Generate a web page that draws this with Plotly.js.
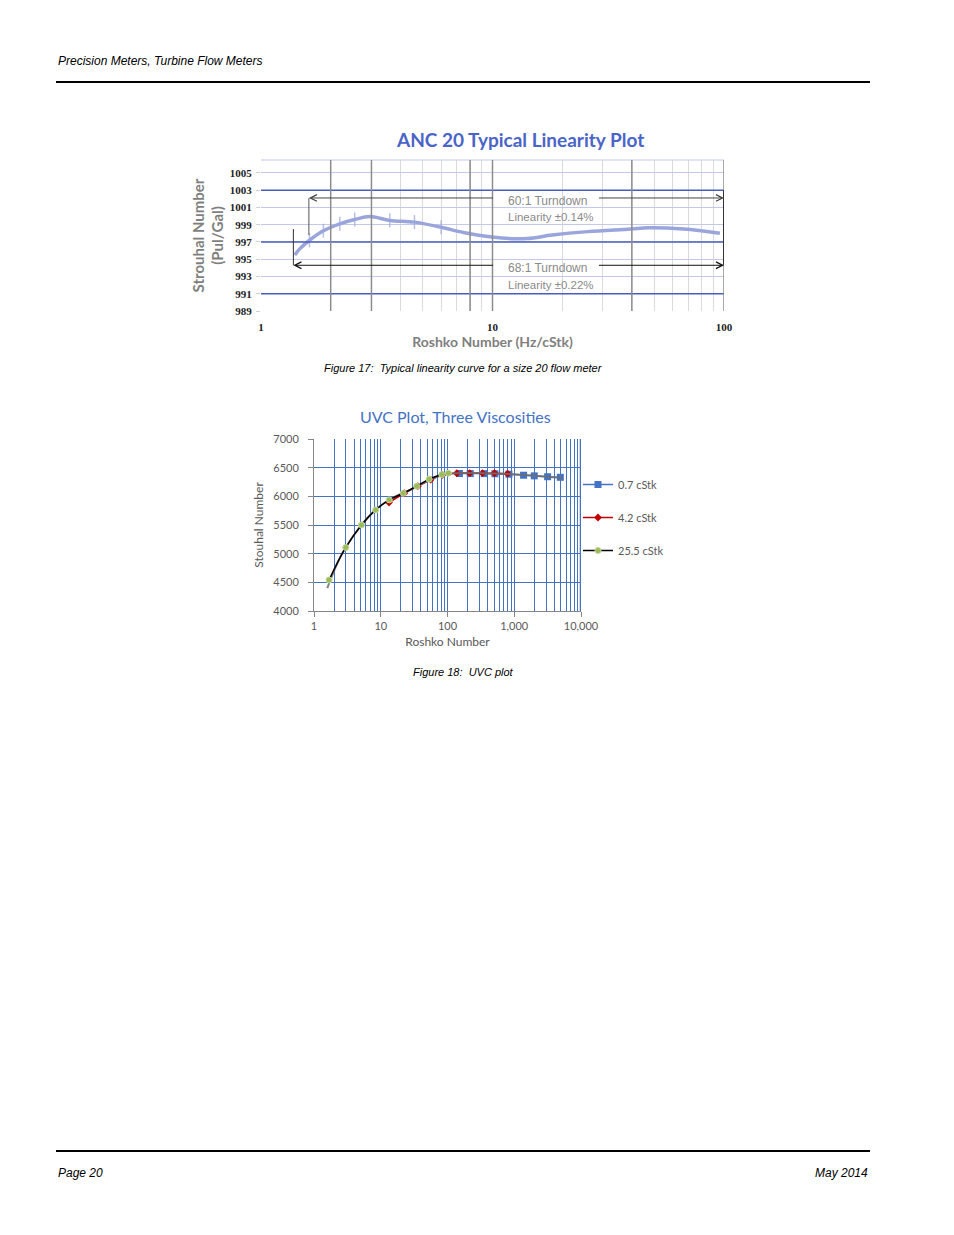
<!DOCTYPE html>
<html>
<head>
<meta charset="utf-8">
<script src="https://cdn.plot.ly/plotly-3.0.1.min.js"></script>
<style>
  html, body { margin: 0; padding: 0; background: #fff; }
  #page { width: 954px; height: 1235px; }
</style>
</head>
<body>
<div id="page"></div>
<script>
// ---- Figure 17: ANC 20 typical linearity ----
const ancRoshko   = [1.40, 1.47, 1.62, 1.86, 2.19, 2.54, 2.95, 3.6, 4.6, 6.0, 7.8, 11.0, 14.1, 18.1, 25.8, 39.5, 47, 67, 96];
const ancStrouhal = [995.5, 996.2, 997.2, 998.3, 999.1, 999.6, 999.95, 999.5, 999.3, 998.7, 998.0, 997.45, 997.4, 997.8, 998.2, 998.5, 998.65, 998.5, 998.0];
const ancTicked   = [1.62, 1.86, 2.19, 2.54, 3.6, 4.6, 6.0];   // points drawn with a small tick mark
const ancYTicks   = [989, 991, 993, 995, 997, 999, 1001, 1003, 1005];
const ancYStrong  = [991, 997, 1003];                             // dark blue grid rows
const ancXStrong  = [2, 3, 8, 10, 40, 100];                       // dark grey grid columns
const ancXTicks   = [1, 10, 100];

// turndown brackets
const turndown60 = { from: 1.61, y: 1002.1, label: "60:1 Turndown", lin: "Linearity ±0.14%" };
const turndown68 = { from: 1.38, y: 994.3,  label: "68:1 Turndown", lin: "Linearity ±0.22%" };

// ---- Figure 18: UVC plot, three viscosities ----
const visc07Roshko   = [151, 219, 355, 513, 832, 1380, 1995, 3162, 4900];
const visc07Strouhal = [6398, 6397, 6396, 6394, 6386, 6368, 6357, 6342, 6332];
const visc42Roshko   = [13.3, 22.5, 36, 56, 84, 138, 215, 335, 505, 795];
const visc42Strouhal = [5892, 6054, 6177, 6290, 6374, 6403, 6404, 6404, 6403, 6395];
const visc255Roshko   = [1.68, 2.99, 5.15, 8.4, 13.4, 21.8, 34.5, 53, 82, 103];
const visc255Strouhal = [4541, 5108, 5501, 5763, 5938, 6054, 6176, 6299, 6380, 6404];
const trendRoshko   = [1.58, 2.5, 4, 6.5, 10, 16, 25, 40, 63, 100, 160, 300, 600, 1000, 2000, 5300];
const trendStrouhal = [4400, 4950, 5330, 5640, 5840, 5990, 6090, 6210, 6320, 6395, 6405, 6405, 6400, 6385, 6358, 6318];
const uvcXTicks = [1, 10, 100, 1000, 10000];
const uvcXText  = ["1", "10", "100", "1,000", "10,000"];

// page is 954 x 1235, everything placed in paper units
const W = 954, H = 1235;
const px = v => v / W;
const py = v => 1 - v / H;

const ancBlue = "#9aa5dc";
const uvcBlue = "#4472c4";
const grey = "#595959";

// all 1..9 steps per decade, used for the grids
const logSteps = (lo, hi) => {
    const out = [];
    for (let d = lo; d < hi; d *= 10)
        for (let k = 1; k < 10; k++) out.push(k * d);
    out.push(hi);
    return out;
};
const ancGridX = logSteps(1, 100);
const uvcMinorX = logSteps(1, 10000).filter(v => !uvcXTicks.includes(v));

const traces = [];

// --- ANC curve ---
traces.push({
    x: ancRoshko, y: ancStrouhal, xaxis: "x", yaxis: "y",
    type: "scatter", mode: "lines+markers",
    line: { color: ancBlue, width: 3.5, shape: "spline", smoothing: 1 },
    marker: {
        symbol: "line-ns-open",
        size: ancRoshko.map(v => ancTicked.includes(v) ? 10 : 0),
        line: { color: ancBlue, width: 1.5 }
    },
    showlegend: false, hoverinfo: "skip"
});

// --- UVC series ---
traces.push({
    x: visc07Roshko, y: visc07Strouhal, xaxis: "x2", yaxis: "y2",
    name: "0.7 cStk", legendgroup: "a", type: "scatter", mode: "lines+markers",
    line: { color: uvcBlue, width: 1.5, shape: "spline" },
    marker: { symbol: "square", size: 7, color: uvcBlue }
});
traces.push({
    x: visc42Roshko, y: visc42Strouhal, xaxis: "x2", yaxis: "y2",
    name: "4.2 cStk", legendgroup: "b", type: "scatter", mode: "lines+markers",
    line: { color: "#c00000", width: 1.5, shape: "spline" },
    marker: { symbol: "diamond", size: 6, color: "#c00000" }
});
// trend line drawn under the 25.5 cStk points
traces.push({
    x: trendRoshko, y: trendStrouhal, xaxis: "x2", yaxis: "y2",
    type: "scatter", mode: "lines",
    line: { color: "rgba(110,110,110,0.85)", width: 2, shape: "spline" },
    showlegend: false, hoverinfo: "skip"
});
traces.push({
    x: visc255Roshko, y: visc255Strouhal, xaxis: "x2", yaxis: "y2",
    name: "25.5 cStk", legendgroup: "c", type: "scatter", mode: "lines+markers",
    line: { color: "#000000", width: 1.5, shape: "spline" },
    marker: { symbol: "circle", size: 6, color: "#9bbb59", line: { color: "#c3d69b", width: 1 } }
});

// =============================================
// shapes: page rules, strong grid lines, brackets
// =============================================
const shapes = [
    { type: "line", xref: "paper", yref: "paper", x0: px(56), x1: px(870), y0: py(82), y1: py(82), line: { color: "#000", width: 2 } },
    { type: "line", xref: "paper", yref: "paper", x0: px(56), x1: px(870), y0: py(1151), y1: py(1151), line: { color: "#000", width: 2 } },
    // top edge of the ANC plot
    { type: "line", xref: "x domain", yref: "y domain", x0: 0, x1: 1, y0: 1, y1: 1, line: { color: "#c3c9ea", width: 1 } },
    // right edge of the UVC plot
    { type: "line", xref: "x2", yref: "y2 domain", x0: 10000, x1: 10000, y0: 0, y1: 1, line: { color: uvcBlue, width: 2.5 } }
];
ancYStrong.forEach(v => shapes.push({
    type: "line", xref: "x domain", yref: "y", x0: 0, x1: 1, y0: v, y1: v,
    line: { color: "#4a5cc0", width: 1.5 }
}));
ancXStrong.forEach(v => shapes.push({
    type: "line", xref: "x", yref: "y domain", x0: v, x1: v, y0: 0, y1: 1,
    line: { color: "#8c8c8c", width: 1.5 }
}));
// bracket verticals
shapes.push({ type: "line", xref: "x", yref: "y", x0: turndown60.from, x1: turndown60.from, y0: turndown60.y, y1: 997.8, line: { color: "#555", width: 1 } });
shapes.push({ type: "line", xref: "x", yref: "y", x0: turndown68.from, x1: turndown68.from, y0: 998.5, y1: turndown68.y, line: { color: "#333", width: 1 } });
shapes.push({ type: "line", xref: "x", yref: "y", x0: 100, x1: 100, y0: 1003, y1: turndown68.y, line: { color: "#333", width: 2 } });

// =============================================
// annotations: page text, titles, bracket arrows
// =============================================
const pageFont = { family: "Liberation Sans, sans-serif", size: 12, color: "#000", style: "italic" };
const note = (text, x, y, xanchor, font) => ({
    text, x, y, xref: "paper", yref: "paper", xanchor, yanchor: "middle", showarrow: false, font
});
const annotations = [
    note("Precision Meters, Turbine Flow Meters", px(56), py(61), "left", pageFont),
    note("Page 20", px(56), py(1173), "left", pageFont),
    note("May 2014", px(870), py(1173), "right", pageFont),
    note("Figure 17:\u00a0 Typical linearity curve for a size 20 flow meter", px(463), py(368), "center", { ...pageFont, size: 11 }),
    note("Figure 18:\u00a0 UVC plot", px(463), py(672), "center", { ...pageFont, size: 11 }),
    note("<b>ANC 20 Typical Linearity Plot</b>", px(520), py(140), "center", { family: "Lato, sans-serif", size: 19, color: "#4a64c8" }),
    note("UVC Plot, Three Viscosities", px(455), py(417), "center", { family: "Lato, sans-serif", size: 16, color: uvcBlue })
];

const bracket = (t, color) => {
    const lg = Math.log10;
    const gapL = lg(10.2), gapR = lg(28.4);
    const textFont = { family: "Liberation Sans, sans-serif", size: 12, color: "#8a8a8a" };
    return [
        { xref: "x", yref: "y", axref: "x", ayref: "y", x: lg(t.from), y: t.y, ax: gapL, ay: t.y,
          showarrow: true, arrowhead: 5, arrowsize: 1.3, arrowwidth: 1, arrowcolor: color, text: "" },
        { xref: "x", yref: "y", axref: "x", ayref: "y", x: 2, y: t.y, ax: gapR, ay: t.y,
          showarrow: true, arrowhead: 5, arrowsize: 1.3, arrowwidth: 1, arrowcolor: color, text: "" },
        { xref: "x", yref: "y", x: 1.06, y: t.y - 0.3, xanchor: "left", yanchor: "middle", showarrow: false,
          text: t.label, font: textFont },
        { xref: "x", yref: "y", x: 1.06, y: t.y - 2.25, xanchor: "left", yanchor: "middle", showarrow: false,
          text: t.lin, font: { ...textFont, size: 11.5 } }
    ];
};
annotations.push(...bracket(turndown60, "#444"), ...bracket(turndown68, "#111"));

const ancTickFont = { family: "Liberation Serif, serif", size: 11, color: "#222", weight: "bold" };
const uvcTickFont = { family: "Lato, sans-serif", size: 11, color: grey };

const layout = {
    width: W, height: H,
    margin: { l: 0, r: 0, t: 0, b: 0 },
    paper_bgcolor: "#fff", plot_bgcolor: "rgba(0,0,0,0)",
    showlegend: true,
    legend: {
        x: px(578), y: py(470), xanchor: "left", yanchor: "top",
        font: { family: "Lato, sans-serif", size: 11, color: grey },
        traceorder: "grouped", tracegroupgap: 14, itemwidth: 30,
        bgcolor: "rgba(0,0,0,0)"
    },

    // --- ANC axes ---
    xaxis: {
        type: "log", range: [0, 2], domain: [px(261), px(724)], anchor: "y",
        tickmode: "array", tickvals: ancGridX,
        ticktext: ancGridX.map(v => ancXTicks.includes(v) ? String(v) : ""),
        showgrid: true, gridcolor: "#dadada", gridwidth: 1,
        zeroline: false, showline: false, ticks: "",
        tickfont: ancTickFont, ticklabelstandoff: 8,
        title: { text: "<b>Roshko Number (Hz/cStk)</b>", font: { family: "Lato, sans-serif", size: 14, color: "#7f7f7f" }, standoff: 1 },
        fixedrange: true
    },
    yaxis: {
        range: [989, 1006.5], domain: [py(311), py(160)], anchor: "x",
        tickmode: "array", tickvals: ancYTicks,
        showgrid: true, gridcolor: "#c3c9ea", gridwidth: 1,
        zeroline: false, showline: false,
        ticks: "outside", ticklen: 4, tickcolor: "#cfcfcf",
        tickfont: ancTickFont, ticklabelstandoff: 2,
        title: { text: "<b>Strouhal Number<br>(Pul/Gal)</b>", font: { family: "Lato, sans-serif", size: 15, color: "#7f7f7f" }, standoff: 2 },
        fixedrange: true
    },

    // --- UVC axes ---
    xaxis2: {
        type: "log", range: [0, 4], domain: [px(314), px(581)], anchor: "y2",
        tickmode: "array", tickvals: uvcXTicks, ticktext: uvcXText,
        showgrid: true, gridcolor: uvcBlue, gridwidth: 1,
        minor: { tickmode: "array", tickvals: uvcMinorX, showgrid: true, gridcolor: uvcBlue, gridwidth: 1, ticks: "" },
        zeroline: false, showline: true, linecolor: "#868686", linewidth: 1,
        ticks: "outside", ticklen: 5, tickcolor: "#868686",
        tickfont: uvcTickFont,
        title: { text: "Roshko Number", font: { family: "Lato, sans-serif", size: 12, color: grey }, standoff: 6 },
        fixedrange: true
    },
    yaxis2: {
        range: [4000, 7000], domain: [py(611), py(439)], anchor: "x2",
        tickmode: "linear", tick0: 4000, dtick: 500,
        showgrid: true, gridcolor: uvcBlue, gridwidth: 1,
        zeroline: false, showline: true, linecolor: "#868686", linewidth: 1,
        ticks: "outside", ticklen: 5, tickcolor: "#868686",
        tickfont: uvcTickFont, ticklabelstandoff: 7,
        title: { text: "Stouhal Number", font: { family: "Lato, sans-serif", size: 12, color: grey }, standoff: 7 },
        fixedrange: true
    },

    shapes, annotations
};

Plotly.newPlot("page", traces, layout, { displayModeBar: false, staticPlot: true });
</script>
</body>
</html>
